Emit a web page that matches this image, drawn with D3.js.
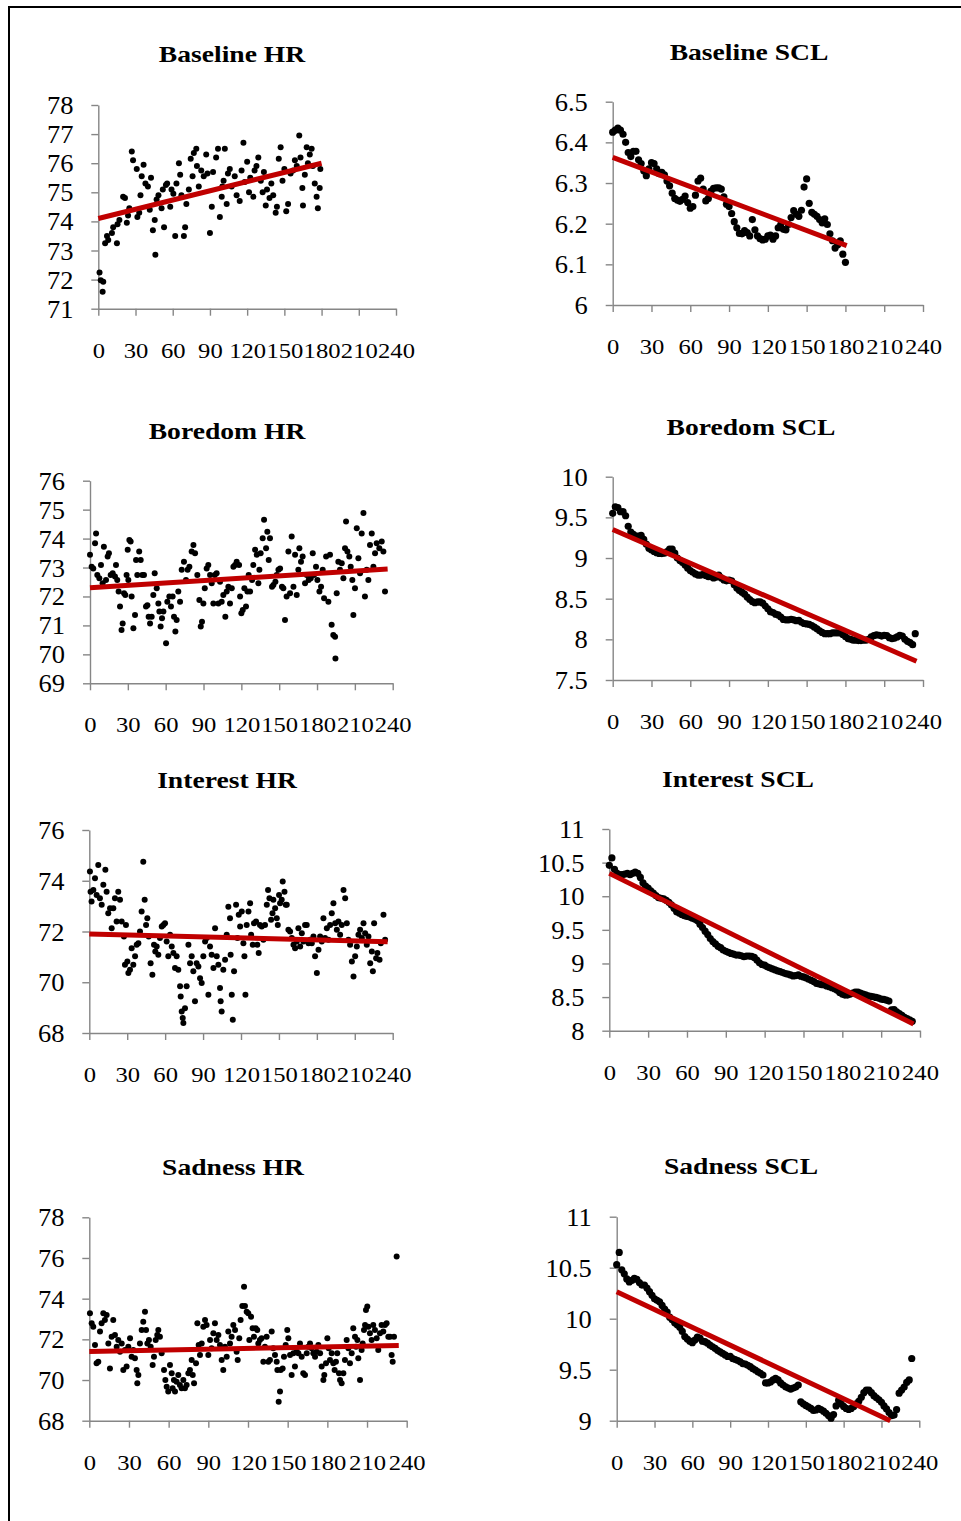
<!DOCTYPE html>
<html><head><meta charset="utf-8">
<script src="https://cdn.jsdelivr.net/npm/d3@7"></script>
<style>
html,body{margin:0;padding:0;background:#fff;}
svg{display:block;}
</style></head><body>
<svg id="chart" width="961" height="1521"></svg>
<script>
// ---------- DATA ----------
const xTicks = [0,30,60,90,120,150,180,210,240];
const sclStep = 2; // seconds between SCL samples

const baselineHRTicks = [71,72,73,74,75,76,77,78];
const baselineSCLTicks = [6,6.1,6.2,6.3,6.4,6.5];
const boredomHRTicks = [69,70,71,72,73,74,75,76];
const boredomSCLTicks = [7.5,8,8.5,9,9.5,10];
const interestHRTicks = [68,70,72,74,76];
const interestSCLTicks = [8,8.5,9,9.5,10,10.5,11];
const sadnessHRTicks = [68,70,72,74,76,78];
const sadnessSCLTicks = [9,9.5,10,10.5,11];

// HR: [seconds, bpm]
const baselineHR = [[1,72.24],[2,71.98],[4,71.93],[3.5,71.58],[5.5,73.25],[7,73.5],[8,73.36],[11,73.6],[12,73.8],[15,73.25],[15.5,73.9],[17,74.05],[20,74.85],[21.5,74.8],[24,74.2],[25,74.45],[23,73.95],[27,76.4],[28,76.1],[31,75.8],[31.5,74.15],[33,74.3],[34,74.9],[35,75.55],[36.5,75.95],[38,75.3],[40,75.2],[41.5,74.4],[42.5,75.5],[44,73.7],[45.5,74.05],[46,72.85],[47,74.75],[48.5,74.9],[51,74.45],[52,75.1],[53,73.8],[54.5,75.25],[55.5,75.3],[58,74.5],[59,75.1],[60.5,74.95],[62,73.5],[63,75.3],[65,76.0],[66,75.6],[67,74.9],[69,73.5],[70,73.8],[71,74.6],[73,75.1],[74.5,76.15],[76,75.55],[77,76.35],[79,76.5],[79.5,75.9],[81,75.2],[83,75.75],[85,75.55],[87,76.3],[88,75.65],[90,73.6],[91.5,74.5],[92.5,75.7],[95,76.2],[96.5,76.5],[98,74.15],[99.5,74.85],[100,75.2],[101,75.4],[102,76.5],[103.5,74.6],[104.5,75.65],[106,75.8],[107.5,75.2],[110,75.55],[111.5,74.9],[114,74.7],[115.5,75.75],[117,76.7],[118,75.35],[120,76.05],[121.5,75.0],[122.5,75.5],[125,74.85],[126,75.75],[127.5,75.9],[129,76.2],[131,75.4],[132.5,75.0],[133.5,75.7],[135,74.55],[136,75.1],[138,74.8],[139.5,75.3],[141,74.9],[143,74.3],[144,74.5],[145.5,76.15],[147,76.55],[148.5,75.4],[150,75.8],[151.5,74.35],[153,74.6],[155,75.65],[157,75.75],[158.5,76.1],[160,75.9],[162,76.95],[163,76.2],[164.5,75.15],[165,74.55],[166.5,75.6],[168,76.55],[169,76.0],[170.5,76.3],[172,76.5],[173,75.9],[174.5,75.3],[176,74.85],[177,74.45],[178.5,75.15],[179,75.8]];

const boredomHR = [[0,73.44],[1.3,73.03],[2.6,72.97],[4,73.84],[4.8,74.18],[5.8,72.74],[7.4,72.63],[8.7,73.09],[10,72.46],[11,73.72],[12.7,72.57],[14,73.38],[15,73.49],[16.4,72.74],[18,72.8],[19.8,72.69],[20.6,73.09],[21.6,72.57],[22.7,72.17],[23.8,71.65],[25,70.84],[25.9,71.07],[27,72.11],[28,72.05],[29,72.74],[29.9,73.61],[30.4,72.57],[31.2,73.95],[32.2,73.9],[33,72.0],[34.4,70.9],[35.7,71.36],[36.5,73.26],[37.5,72.74],[39,73.55],[40.2,73.26],[41.5,72.74],[42.8,72.74],[44.4,71.65],[45.5,71.7],[46.5,71.3],[47.6,71.07],[48.9,71.3],[50.2,72.05],[51.3,72.8],[52.9,72.28],[54.2,71.76],[55,71.48],[56,70.96],[57.1,71.25],[58.2,71.48],[60.3,70.38],[61.3,71.82],[62.9,72.0],[64.2,71.65],[65.5,72.0],[66.6,71.3],[67.7,70.79],[68.7,71.19],[70,72.17],[71.4,71.82],[72.7,72.92],[74.5,73.2],[76.1,72.57],[77.4,72.92],[78.8,73.03],[80.6,73.55],[82,73.78],[83.3,73.49],[85.1,72.74],[86.7,71.88],[87.8,70.96],[88.8,71.13],[89.9,71.76],[91,72.28],[92.5,72.97],[93.8,73.09],[95.2,72.74],[96.5,72.46],[97.8,71.76],[98.9,72.74],[100.4,72.8],[101.8,71.76],[103.1,72.51],[104.4,71.82],[105.7,72.05],[107.3,71.3],[108.4,72.17],[109.7,72.34],[111,71.76],[112.4,72.28],[113.7,73.03],[115,73.09],[116.3,73.2],[118.2,73.09],[119,72.0],[120,71.42],[121.1,71.53],[122.4,72.28],[123.7,71.65],[124.8,72.17],[125.8,72.74],[126.9,72.17],[128.5,72.57],[129.5,73.09],[130.9,73.61],[132.2,73.44],[133.5,72.46],[134.3,72.92],[135.3,73.49],[136.9,74.01],[138,74.65],[139.6,73.67],[140.6,74.24],[141.7,73.26],[142.7,74.01],[144.3,72.34],[145.4,72.4],[147,72.51],[148,72.74],[149.4,72.92],[150.7,72.97],[152.2,72.34],[153.3,72.28],[154.6,71.19],[155.9,72.0],[157.3,73.55],[158.6,72.11],[159.9,74.07],[161.3,72.34],[162.6,73.44],[163.9,72.05],[165.2,72.92],[166,73.67],[167.3,73.2],[168.6,73.38],[170.5,72.46],[171.8,72.74],[173.4,72.57],[175,72.63],[176.6,73.49],[177.6,72.74],[179.2,73.03],[180.3,72.57],[181.9,72.17],[183.2,72.34],[184.5,72.92],[185.6,71.94],[187.2,73.38],[189,71.82],[190.3,73.44],[191.6,71.02],[192.9,70.67],[194.3,70.61],[194.6,69.86],[195.6,72.11],[196.9,73.2],[198.2,72.92],[199.6,73.15],[200.9,72.63],[202.2,73.67],[203,74.59],[204.1,73.55],[205.6,73.38],[206.7,73.03],[208,72.57],[208.8,71.36],[210.1,72.28],[211.5,74.36],[212.8,73.32],[214.1,72.8],[215.4,74.18],[216.8,74.88],[218,72.0],[219.4,72.92],[220.7,72.57],[222,73.78],[223.4,74.18],[224.7,73.03],[226,73.49],[227.3,73.84],[229.4,73.67],[231.3,73.9],[232.6,73.55],[233.9,72.17]];

const interestHR = [[0.5,74.36],[1,73.57],[1.8,73.18],[3.2,73.64],[4.5,74.1],[5.8,73.44],[7.1,74.62],[8.4,73.31],[9.8,73.05],[11.1,73.84],[12.7,74.43],[13.7,73.57],[15,72.72],[16.4,72.92],[17.7,72.13],[19,72.92],[20.3,73.31],[21.6,72.39],[22.9,73.57],[24.3,73.25],[25.6,72.39],[27.4,71.8],[28.2,70.69],[29,72.26],[30.1,70.82],[30.9,70.36],[32.2,70.49],[33.5,71.34],[34.8,70.69],[36.2,71.02],[37.5,71.48],[38.8,71.54],[40.1,72.0],[41.4,72.79],[42.7,74.75],[43.8,73.25],[44.9,72.26],[45.9,72.52],[47,71.8],[48.5,70.75],[49.9,70.3],[51.2,71.48],[52.2,71.21],[53.3,71.41],[54.6,71.08],[55.9,71.74],[57.3,72.2],[58.6,72.26],[59.9,72.33],[61.2,71.61],[62.5,71.02],[63.9,71.87],[65.2,71.41],[66.5,71.15],[67.8,70.56],[69.1,71.02],[70.4,70.49],[71.8,69.84],[72.3,69.44],[73.1,68.85],[73.9,68.59],[74.4,68.39],[75.7,68.98],[77,69.84],[78.4,71.48],[79.7,70.75],[81,71.02],[82.3,70.43],[83.6,69.25],[84.9,70.75],[86.3,70.62],[87.6,70.16],[88.9,69.97],[90.2,71.02],[91.6,71.61],[92.9,71.74],[94.2,69.51],[95.5,71.41],[96.8,71.08],[98.2,70.56],[99.5,72.13],[100.8,71.02],[102.1,70.69],[103.4,69.77],[103.9,69.25],[104.7,68.85],[106,70.49],[107.4,70.89],[108.7,71.87],[110,72.98],[111.3,72.52],[111.8,71.08],[112.7,69.51],[113.5,68.52],[114.5,70.43],[116.1,73.05],[117.2,71.74],[118.2,72.66],[119.3,72.2],[120.6,72.79],[121.9,71.54],[122.7,71.02],[123.5,69.51],[124.5,72.26],[125.9,72.79],[127.2,73.11],[128,71.87],[129.3,71.48],[130.3,72.33],[131.9,72.39],[132.9,71.48],[134,71.15],[135,72.26],[136.4,72.2],[137.7,71.67],[139,72.26],[140.4,73.05],[141.4,73.64],[142.5,73.31],[143.8,72.46],[144.9,72.72],[145.6,73.25],[147,72.92],[148.3,72.52],[149.1,72.26],[150.1,73.44],[150.9,73.11],[152.2,73.25],[153,73.97],[154.4,73.57],[155.4,73.05],[156.2,73.05],[157.5,72.07],[158.8,72.0],[160.2,71.74],[161.5,71.48],[162.8,71.34],[164.1,71.61],[165.4,72.13],[166.8,71.41],[168.1,71.93],[169.4,71.61],[170.7,72.26],[172,72.26],[173.4,71.54],[174.7,71.67],[176,71.54],[177.3,71.8],[178.6,71.02],[180,70.36],[181.3,71.28],[182.6,71.8],[183.9,71.61],[185.2,72.52],[186.5,71.74],[187.9,72.13],[189.2,71.67],[190.5,72.26],[191.8,72.72],[193.1,73.11],[194.5,72.33],[195.8,72.07],[197.1,72.39],[198.4,71.87],[199.7,72.26],[201.1,73.64],[202.4,73.31],[203.7,72.33],[205,71.67],[206.3,71.48],[207.7,70.82],[209,70.23],[210.3,71.02],[211.6,71.41],[212.9,71.87],[214.2,72.07],[215.6,71.74],[216.9,72.33],[218.2,71.93],[219.5,71.48],[220.8,71.8],[222.2,70.75],[223.5,71.21],[224.3,70.43],[225.3,72.33],[226.9,70.95],[227.9,71.15],[229.6,70.89],[230.6,71.54],[232.7,72.66],[234,71.67]];

const sadnessHR = [[0.5,73.28],[1.8,72.79],[3,72.62],[4.3,71.72],[5.5,70.82],[6.8,70.9],[8.1,72.38],[9.3,72.79],[10.6,73.28],[11.8,72.95],[13.1,73.2],[14.4,71.8],[15.6,70.57],[16.9,72.13],[18.1,72.95],[19.4,72.21],[20.7,71.64],[21.9,71.97],[23.2,71.39],[24.5,71.8],[25.7,70.49],[27,71.48],[28.2,70.66],[29.5,71.64],[30.8,72.05],[32,71.15],[33.3,71.48],[34.5,71.07],[35.8,70.49],[36.3,69.84],[37.1,70.25],[38.3,71.8],[39.6,72.46],[40.8,72.87],[42.1,73.36],[42.9,72.46],[43.9,71.8],[45.1,71.97],[46.4,71.64],[47.9,70.74],[48.9,71.15],[50.2,71.97],[51.4,72.21],[52.2,72.46],[53.4,72.13],[54.7,71.31],[56.5,70.49],[57.5,70.0],[58.5,69.67],[59.7,69.43],[61,70.74],[62.3,70.33],[63,69.59],[64,70.0],[64.8,69.43],[66,69.92],[67.3,70.25],[68.5,69.75],[69.8,69.59],[71.1,70.0],[72.3,69.59],[73.6,69.75],[74.9,70.33],[76.1,70.49],[77.4,70.98],[78.2,70.25],[79.2,69.84],[80.7,70.82],[81.7,72.79],[82.7,71.72],[83.7,71.23],[85,71.8],[86.2,72.62],[87.5,72.95],[88.7,72.7],[90,71.23],[91.3,71.97],[92.5,71.56],[93.8,72.3],[95,72.79],[96.3,71.97],[97.6,72.21],[98.8,71.72],[100.1,70.98],[101.3,70.49],[102.6,71.64],[103.9,71.15],[105.1,72.38],[106.4,71.8],[107.6,72.13],[108.9,72.7],[110.2,72.46],[111.4,71.39],[112.2,70.98],[113.4,72.05],[114.4,72.95],[115.7,73.64],[117,74.59],[117.7,73.64],[119,73.36],[120.2,73.28],[121,71.97],[122.3,73.11],[123.5,72.54],[124.5,72.13],[125.8,72.54],[127,72.46],[127.8,71.8],[129,71.97],[130.3,72.05],[131.6,70.9],[132.8,71.64],[134.1,72.13],[135.4,70.9],[136.6,70.98],[137.9,72.38],[139.1,71.56],[140.4,71.23],[141.7,70.9],[142.2,70.49],[143.2,68.93],[144.2,69.43],[144.7,70.49],[146.2,70.57],[147.2,71.15],[148.5,71.72],[149.7,72.46],[150.5,72.05],[151.8,71.23],[153,70.25],[154.3,71.31],[155.5,70.66],[156.8,71.39],[158.1,71.31],[159.3,71.8],[160.6,71.15],[161.8,70.33],[163.1,70.25],[164.4,71.31],[165.6,71.64],[166.9,71.8],[168.1,71.56],[169.4,71.31],[170.7,71.15],[171.9,71.39],[173.2,71.72],[174.5,71.31],[175.7,70.66],[177,70.0],[177.7,70.25],[179,70.82],[180,72.05],[181,71.56],[182,70.98],[183.3,71.31],[184.5,70.82],[185.5,70.49],[186.5,70.9],[187.5,71.31],[188.8,70.33],[189.6,70.0],[190.8,69.84],[192.1,70.33],[193.3,70.98],[194.6,71.97],[195.9,71.56],[197.1,70.82],[198.4,71.31],[199.6,72.54],[200.9,72.13],[201.7,71.64],[202.7,71.97],[203.4,71.07],[204.7,70.0],[205.9,71.48],[206.7,71.8],[207.7,72.46],[208.5,72.7],[209.2,73.44],[210.2,73.61],[211,72.62],[212.2,72.3],[213.5,71.97],[214.7,72.7],[216,72.46],[217.3,72.05],[218.5,71.48],[219.8,72.3],[221,72.7],[222.3,72.38],[223.6,72.7],[224.8,72.79],[226.1,72.13],[227.4,72.13],[228.6,71.23],[229.4,70.9],[230.4,72.13],[232.4,76.07]];

// SCL: one value every sclStep seconds, starting at 0
const baselineSCL = [6.425,6.43,6.435,6.43,6.42,6.40,6.375,6.365,6.378,6.378,6.357,6.348,6.33,6.318,6.335,6.35,6.348,6.335,6.323,6.326,6.32,6.305,6.293,6.275,6.262,6.258,6.255,6.26,6.268,6.252,6.238,6.242,6.27,6.305,6.312,6.285,6.256,6.262,6.28,6.287,6.288,6.288,6.285,6.266,6.248,6.242,6.225,6.205,6.19,6.176,6.175,6.183,6.178,6.17,6.21,6.185,6.17,6.163,6.16,6.162,6.17,6.172,6.162,6.17,6.19,6.198,6.186,6.185,6.198,6.215,6.232,6.223,6.218,6.233,6.29,6.31,6.25,6.228,6.223,6.218,6.21,6.202,6.212,6.198,6.175,6.158,6.14,6.148,6.158,6.125,6.105];

const boredomSCL = [9.55,9.63,9.62,9.57,9.57,9.52,9.39,9.32,9.29,9.27,9.27,9.28,9.23,9.17,9.12,9.10,9.08,9.065,9.057,9.055,9.06,9.08,9.11,9.11,9.06,9.00,8.97,8.945,8.915,8.875,8.845,8.825,8.805,8.79,8.79,8.80,8.785,8.77,8.77,8.755,8.765,8.79,8.755,8.73,8.72,8.73,8.72,8.67,8.63,8.60,8.58,8.555,8.52,8.49,8.465,8.45,8.46,8.46,8.445,8.41,8.375,8.34,8.33,8.31,8.30,8.275,8.245,8.24,8.24,8.245,8.24,8.23,8.235,8.21,8.195,8.19,8.185,8.17,8.15,8.13,8.105,8.085,8.07,8.07,8.07,8.08,8.08,8.08,8.08,8.06,8.035,8.01,8.0,7.99,7.99,7.985,7.985,7.99,7.99,8.0,8.03,8.045,8.055,8.05,8.04,8.05,8.045,8.02,8.01,8.015,8.03,8.05,8.04,8.0,7.975,7.96,7.935,8.07];

const interestSCL = [10.46,10.57,10.40,10.34,10.32,10.32,10.33,10.34,10.32,10.34,10.36,10.34,10.28,10.20,10.15,10.12,10.08,10.045,10.01,9.98,9.97,9.96,9.94,9.91,9.87,9.82,9.77,9.75,9.73,9.71,9.70,9.69,9.675,9.66,9.64,9.585,9.535,9.48,9.43,9.37,9.325,9.29,9.255,9.235,9.20,9.18,9.165,9.15,9.14,9.125,9.125,9.115,9.10,9.11,9.11,9.105,9.09,9.05,9.01,8.985,8.975,8.95,8.935,8.92,8.905,8.89,8.88,8.865,8.85,8.84,8.83,8.815,8.82,8.83,8.81,8.80,8.785,8.765,8.75,8.73,8.705,8.695,8.685,8.68,8.665,8.655,8.64,8.625,8.60,8.57,8.545,8.53,8.53,8.545,8.56,8.575,8.575,8.56,8.545,8.535,8.52,8.51,8.505,8.495,8.485,8.47,8.465,8.455,8.44,8.31,8.315,8.28,8.255,8.23,8.20,8.18,8.16,8.14];

const sadnessSCL = [10.53,10.65,10.48,10.44,10.39,10.36,10.375,10.395,10.385,10.355,10.33,10.33,10.30,10.265,10.23,10.195,10.18,10.165,10.13,10.095,10.065,10.015,9.99,9.96,9.94,9.915,9.875,9.825,9.80,9.78,9.765,9.79,9.82,9.81,9.78,9.775,9.76,9.74,9.725,9.71,9.69,9.675,9.66,9.645,9.63,9.63,9.61,9.60,9.59,9.578,9.56,9.555,9.543,9.53,9.51,9.497,9.48,9.465,9.448,9.37,9.37,9.38,9.40,9.415,9.40,9.37,9.35,9.333,9.32,9.31,9.32,9.33,9.35,9.185,9.165,9.15,9.135,9.12,9.10,9.105,9.12,9.11,9.093,9.072,9.05,9.025,9.06,9.145,9.20,9.165,9.14,9.12,9.11,9.12,9.14,9.165,9.19,9.23,9.275,9.30,9.30,9.275,9.245,9.225,9.205,9.18,9.145,9.115,9.08,9.05,9.055,9.11,9.27,9.30,9.33,9.375,9.40,9.61];

// linear trend lines: [seconds, value] endpoints
const baselineHRTrend = [[0,74.1],[180,76.0]];
const baselineSCLTrend = [[0,6.363],[181,6.146]];
const boredomHRTrend = [[0,72.3],[236,72.95]];
const boredomSCLTrend = [[0,9.35],[235,7.73]];
const interestHRTrend = [[0,71.9],[236,71.6]];
const interestSCLTrend = [[0,10.34],[235,8.1]];
const sadnessHRTrend = [[0,71.4],[234,71.7]];
const sadnessSCLTrend = [[0,10.265],[217,9.0]];

// ---------- LAYOUT ----------
const panels = [
  {title:"Baseline HR", pts:baselineHR, ticks:baselineHRTicks, trend:baselineHRTrend, box:[98.3,396,105,308.7], tpos:[232,62]},
  {title:"Baseline SCL", vals:baselineSCL, ticks:baselineSCLTicks, trend:baselineSCLTrend, box:[612.7,923,101.7,305], tpos:[749,60]},
  {title:"Boredom HR", pts:boredomHR, ticks:boredomHRTicks, trend:boredomHRTrend, box:[90,392.7,480.7,683.3], tpos:[227,439]},
  {title:"Boredom SCL", vals:boredomSCL, ticks:boredomSCLTicks, trend:boredomSCLTrend, box:[612.7,923,476.7,680], tpos:[751,435]},
  {title:"Interest HR", pts:interestHR, ticks:interestHRTicks, trend:interestHRTrend, box:[89.3,392.7,830,1033], tpos:[227,788]},
  {title:"Interest SCL", vals:interestSCL, ticks:interestSCLTicks, trend:interestSCLTrend, box:[609.3,920,829,1030.7], tpos:[738,787]},
  {title:"Sadness HR", pts:sadnessHR, ticks:sadnessHRTicks, trend:sadnessHRTrend, box:[89.3,406.7,1217.3,1420.7], tpos:[233,1175]},
  {title:"Sadness SCL", vals:sadnessSCL, ticks:sadnessSCLTicks, trend:sadnessSCLTrend, box:[616.7,919.3,1216.7,1420.7], tpos:[741,1174]}
];

const FONT = "'Liberation Serif','Times New Roman',serif";
const AXIS = "#868686";
const svg = d3.select("#chart");

svg.append("path").attr("d","M9,1521V7H961")
  .attr("fill","none").attr("stroke","#000").attr("stroke-width",2);

panels.forEach(p => {
  const [x0,x1,yT,yB] = p.box;
  const x = d3.scaleLinear().domain([0,240]).range([x0,x1]);
  const y = d3.scaleLinear().domain([p.ticks[0], p.ticks[p.ticks.length-1]]).range([yB,yT]);
  const g = svg.append("g");

  // title
  g.append("text")
    .attr("transform",`translate(${p.tpos[0]},${p.tpos[1]}) scale(1.15,1)`)
    .attr("text-anchor","middle")
    .style("font-family",FONT).style("font-weight","bold").style("font-size","24px")
    .text(p.title);

  // x axis
  const gx = g.append("g").attr("transform",`translate(0,${yB})`)
    .call(d3.axisBottom(x).tickValues(xTicks).tickSize(7).tickSizeOuter(0).tickFormat(d=>String(d)));
  gx.selectAll("text").attr("y",49).attr("dy",0)
    .attr("transform","scale(1.12,1)")
    .style("font-family",FONT).style("font-size","22px").attr("fill","#000");

  // y axis
  const gy = g.append("g").attr("transform",`translate(${x0},0)`)
    .call(d3.axisLeft(y).tickValues(p.ticks).tickSize(7).tickSizeOuter(0).tickFormat(d=>String(d)));
  gy.selectAll("text").attr("x",-23.5).attr("dy","0.34em")
    .attr("transform","scale(1.06,1)")
    .style("font-family",FONT).style("font-size","25px").attr("fill","#000");

  [gx,gy].forEach(a=>{
    a.select(".domain").attr("stroke",AXIS).attr("stroke-width",1.4);
    a.selectAll(".tick line").attr("stroke",AXIS).attr("stroke-width",1.4);
  });

  // points
  const data = p.pts ? p.pts : p.vals.map((v,i)=>[i*sclStep, v]);
  g.append("g").selectAll("circle").data(data).join("circle")
    .attr("cx",d=>x(d[0])).attr("cy",d=>y(d[1]))
    .attr("r", p.pts ? 3.0 : 3.6).attr("fill","#000");

  // trend line
  g.append("path").datum(p.trend)
    .attr("d", d3.line().x(d=>x(d[0])).y(d=>y(d[1])))
    .attr("fill","none").attr("stroke","#c00000").attr("stroke-width",5);
});
</script>
</body></html>
